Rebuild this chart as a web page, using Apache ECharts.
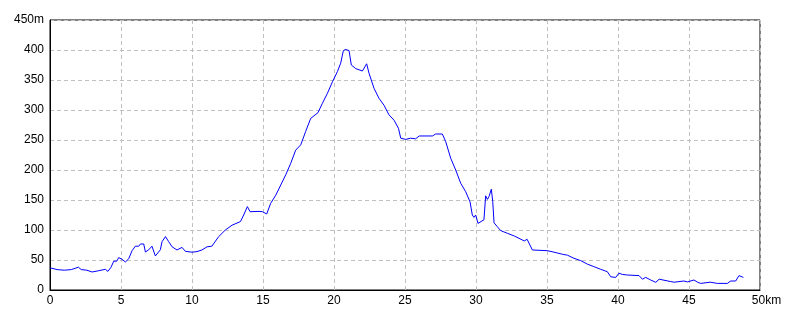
<!DOCTYPE html>
<html>
<head>
<meta charset="utf-8">
<script src="https://cdn.jsdelivr.net/npm/echarts@6/dist/echarts.min.js"></script>
<style>html,body{margin:0;padding:0;background:#fff}#c{width:800px;height:320px}</style>
</head>
<body>
<div id="c"></div>
<script>
const distanceKm = [0, 0.1, 0.5, 1.0, 1.5, 2.0, 2.2, 2.6, 2.96, 3.4, 3.9, 4.08, 4.3, 4.49, 4.7, 4.84, 5.08, 5.31, 5.54, 5.78, 6.01, 6.25, 6.37, 6.6, 6.72, 6.95, 7.18, 7.42, 7.77, 7.89, 8.13, 8.36, 8.6, 8.94, 9.3, 9.53, 10.0, 10.35, 10.7, 11.06, 11.4, 11.88, 12.35, 12.82, 13.41, 13.64, 13.9, 14.09, 14.72, 14.96, 15.26, 15.54, 15.9, 16.25, 16.6, 16.95, 17.3, 17.66, 18.0, 18.36, 18.87, 19.18, 19.54, 19.89, 20.24, 20.47, 20.66, 20.82, 21.06, 21.22, 21.53, 22.0, 22.3, 22.47, 22.82, 23.17, 23.52, 23.87, 24.23, 24.54, 24.7, 25.05, 25.17, 25.4, 25.75, 26.0, 26.93, 27.04, 27.16, 27.63, 27.87, 28.22, 28.57, 28.92, 29.27, 29.58, 29.74, 29.86, 29.98, 30.14, 30.28, 30.56, 30.68, 30.8, 30.92, 31.08, 31.18, 31.27, 31.5, 31.74, 32.21, 32.7, 33.17, 33.4, 33.6, 33.73, 33.97, 34.08, 35.03, 35.05, 35.5, 36.1, 36.44, 36.9, 37.37, 37.85, 38.3, 38.78, 39.25, 39.49, 39.84, 40.07, 40.3, 40.42, 40.66, 40.77, 41.48, 41.72, 41.95, 42.3, 42.66, 42.9, 43.0, 43.72, 43.95, 44.65, 44.9, 45.35, 45.6, 45.82, 46.5, 47.0, 47.7, 47.94, 48.29, 48.52, 48.64, 48.83];
const elevationM = [37, 35, 34, 33, 34, 38, 34, 33, 30, 32, 34.5, 31, 38, 48, 48, 54, 51, 46.7, 52, 65.5, 73, 73, 76.7, 76.7, 63.3, 67, 73, 56.7, 67, 80.5, 89, 80.5, 72, 66.7, 71, 64.5, 63, 64, 66.7, 72, 73, 89, 100, 108, 114, 125, 139, 130.5, 131, 130.5, 126.7, 144.5, 158, 175, 192, 211, 233, 242, 264, 286, 295.5, 311, 328, 347, 364, 378, 399, 401, 399, 375, 369, 365, 377, 361, 336, 319.5, 308, 292, 283, 269.5, 253, 251, 254, 253, 252, 256.7, 256.7, 255, 260, 260, 247, 219.5, 200, 178, 164, 147, 125, 121, 125, 111, 108, 117, 157, 151, 156, 168, 147, 112, 105.5, 99, 94.5, 90, 84.5, 81.7, 84.5, 83, 66.7, 64, 65.5, 67, 63, 59.5, 58, 52.8, 49, 43, 39, 34.5, 30.5, 22, 21, 28, 26, 29, 25, 27, 24, 18, 21, 16.7, 12.8, 18, 15, 14, 13, 15, 13.5, 16.7, 13, 11, 13, 11, 11, 15, 15, 24, 21, 21];
const xTicks = [0, 5, 10, 15, 20, 25, 30, 35, 40, 45, 50];
const yTicks = [0, 50, 100, 150, 200, 250, 300, 350, 400, 450];

const points = distanceKm.map((d, i) => [d, elevationM[i]]);
const font = "'Liberation Sans Narrow', 'Liberation Sans', sans-serif";
const chart = echarts.init(document.getElementById('c'), null, {renderer: 'canvas'});
chart.setOption({
  animation: false,
  backgroundColor: '#fff',
  grid: {left: 50, top: 20, width: 710, height: 270, show: true, borderColor: '#000', borderWidth: 1, containLabel: false},
  xAxis: {
    type: 'value', min: xTicks[0], max: xTicks[xTicks.length - 1], interval: 5,
    axisLine: {show: true, lineStyle: {color: '#000', width: 1}},
    axisTick: {show: false},
    axisLabel: {
      color: '#000', fontSize: 12, fontFamily: font, margin: 5,
      formatter: v => v === 50 ? '{p|}50km' : String(v),
      rich: {p: {width: 13}}
    },
    splitLine: {show: true, lineStyle: {color: '#c0c0c0', type: [4, 3], width: 1}}
  },
  yAxis: {
    type: 'value', min: yTicks[0], max: yTicks[yTicks.length - 1], interval: 50,
    axisLine: {show: true, lineStyle: {color: '#000', width: 1}},
    axisTick: {show: false},
    axisLabel: {
      color: '#000', fontSize: 12, fontFamily: font, margin: 6,
      formatter: v => v === 450 ? '450m' : String(v)
    },
    splitLine: {show: true, lineStyle: {color: '#c0c0c0', type: [4, 3], width: 1}}
  },
  series: [{
    type: 'line', data: points, showSymbol: false, symbol: 'none',
    lineStyle: {color: '#0000ff', width: 1}, smooth: false
  }]
});
</script>
</body>
</html>
